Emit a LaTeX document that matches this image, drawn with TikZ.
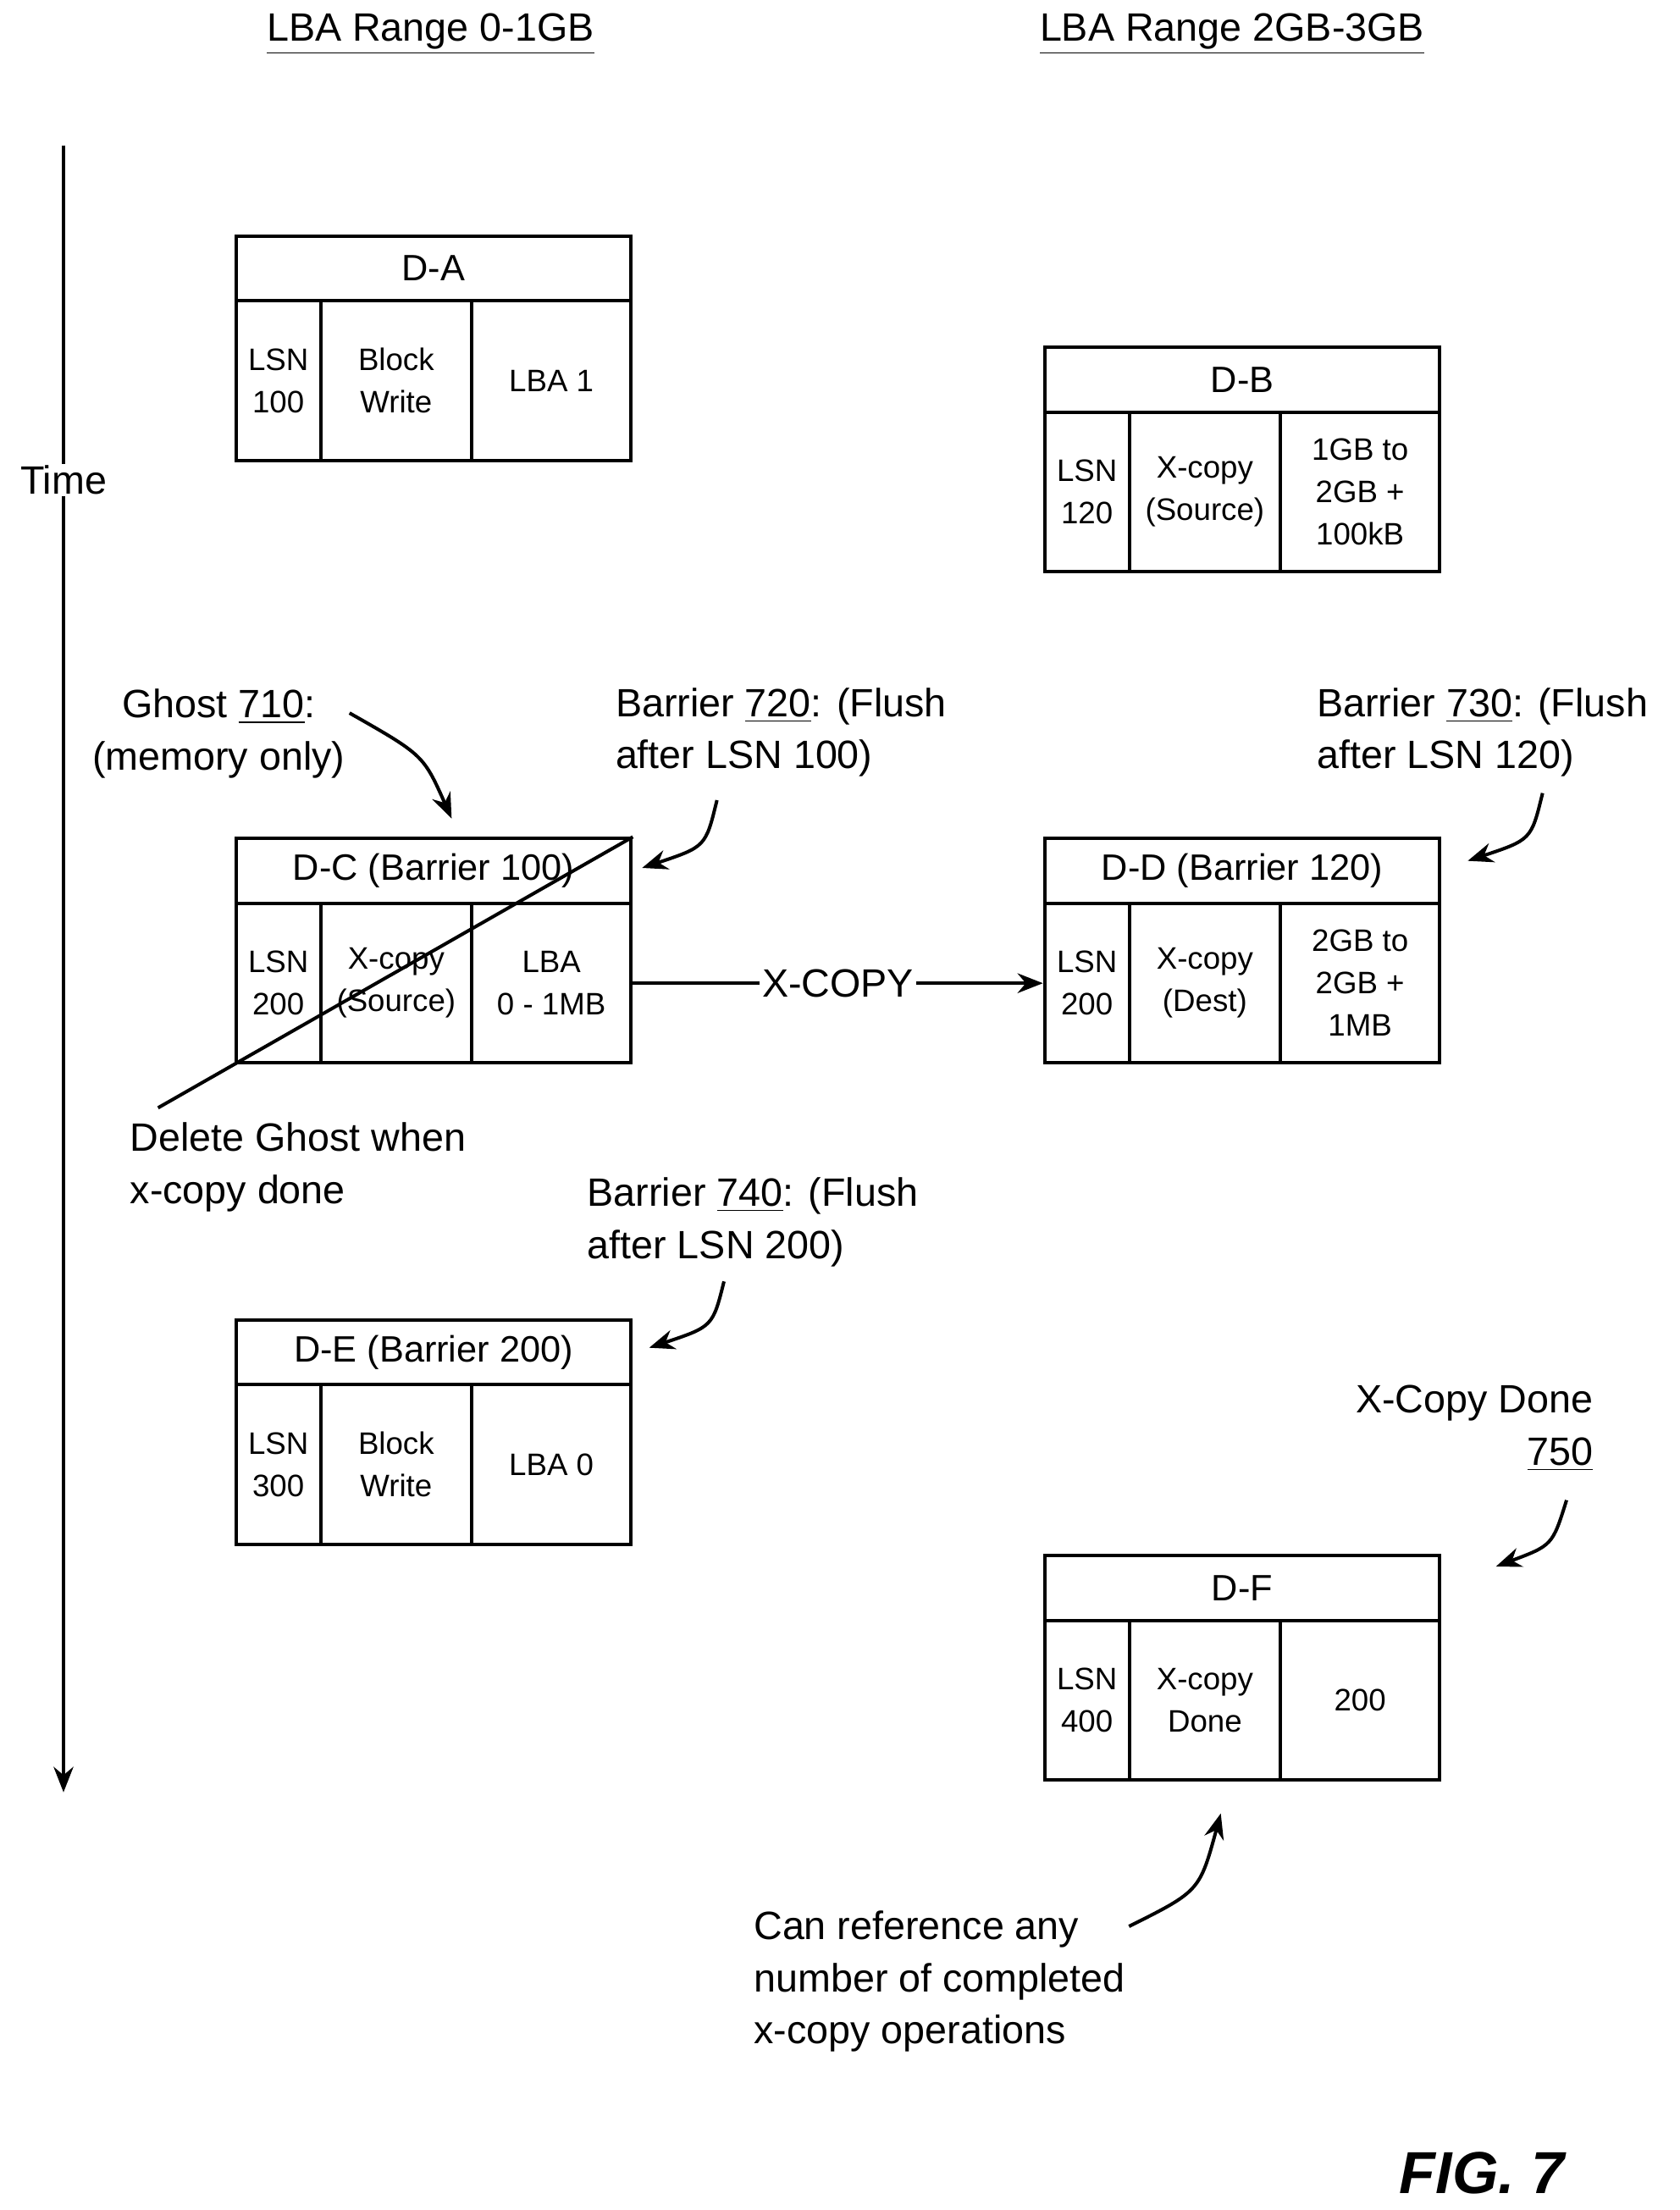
\documentclass[tikz,border=0pt]{standalone}
\usepackage{fontspec}
\setmainfont{Liberation Sans}
\usetikzlibrary{arrows.meta}
\begin{document}
\begin{tikzpicture}[x=0.5pt,y=-0.5pt,line width=1.2pt,
 cell/.style={draw,anchor=north west,inner sep=0pt,align=center,font=\fontsize{11}{15}\selectfont,minimum height=56.5pt},
 hdr/.style={draw,anchor=north west,inner sep=0pt,minimum width=140pt,minimum height=23pt,font=\fontsize{13}{15}\selectfont},
 lbl/.style={font=\fontsize{14}{18.5}\selectfont,inner sep=0pt},
 arr/.style={-{Stealth[length=9pt,width=7pt]},line width=1.2pt}]
\useasboundingbox (0,0) rectangle (1190,1566);
\newcommand\entry[7]{%
 \node[hdr] (#1h) at (#2,#3) {#4};
 \node[cell,minimum width=30pt] (#1a) at (#2,#3+46) {#5};
 \node[cell,minimum width=53.5pt] (#1b) at (#2+60,#3+46) {#6};
 \node[cell,minimum width=56.5pt] (#1c) at (#2+167,#3+46) {#7};}
\node[lbl] (h1) at (305,24) {\underline{LBA Range 0-1GB}};
\node[lbl] (h2) at (873,24) {\underline{LBA Range 2GB-3GB}};
\node[lbl] (time) at (45,340) {Time};
\coordinate (t0) at (45,103); \coordinate (t1) at (45,1270);
\draw (t0) -- (time.north);
\draw[arr] (time.south) -- (t1);
\entry{A}{166}{166}{D-A}{LSN\\100}{Block\\Write}{LBA 1}
\entry{B}{739}{245}{D-B}{LSN\\120}{X-copy\\(Source)}{1GB to\\2GB +\\100kB}
\entry{C}{166}{593}{D-C (Barrier 100)}{LSN\\200}{X-copy\\(Source)}{LBA\\0 - 1MB}
\entry{D}{739}{593}{D-D (Barrier 120)}{LSN\\200}{X-copy\\(Dest)}{2GB to\\2GB +\\1MB}
\entry{E}{166}{934}{D-E (Barrier 200)}{LSN\\300}{Block\\Write}{LBA 0}
\entry{F}{739}{1101}{D-F}{LSN\\400}{X-copy\\Done}{200}
\coordinate (g1) at (112,785);
\draw (Ch.north east) -- (g1);
\draw[arr] (Cc.east) -- node[lbl,fill=white,inner sep=1pt] {X-COPY} (Da.west);
\node[lbl,align=center] (ghost) at (155,520) {Ghost \underline{710}:\\(memory only)};
\node[lbl,align=left,anchor=west] (b720) at (435,519) {Barrier \underline{720}: (Flush\\after LSN 100)};
\node[lbl,align=left,anchor=west] (b730) at (932,519) {Barrier \underline{730}: (Flush\\after LSN 120)};
\node[lbl,align=left,anchor=west] (del) at (91,827) {Delete Ghost when\\x-copy done};
\node[lbl,align=left,anchor=west] (b740) at (415,866) {Barrier \underline{740}: (Flush\\after LSN 200)};
\node[lbl,align=right,anchor=east] (xd) at (1130,1012) {X-Copy Done\\\underline{750}};
\node[lbl,align=left,anchor=west] (can) at (533,1404) {Can reference any\\number of completed\\x-copy operations};
\node[font=\fontsize{21}{25}\selectfont\bfseries\itshape] (fig) at (1050,1540) {FIG. 7};
\coordinate (a1) at (320,580); \coordinate (a2) at (455,615); \coordinate (a3) at (1040,610);
\coordinate (a4) at (460,955); \coordinate (a5) at (1060,1110); \coordinate (a6) at (865,1285);
\draw[arr] (ghost.north east)++(2,18) .. controls (300,535) .. (a1);
\draw[arr] (508,567) .. controls (500,600) .. (a2);
\draw[arr] (1093,562) .. controls (1085,595) .. (a3);
\draw[arr] (513,908) .. controls (505,940) .. (a4);
\draw[arr] (1110,1063) .. controls (1100,1095) .. (a5);
\draw[arr] (800,1365) .. controls (850,1340) .. (a6);
\end{tikzpicture}
\end{document}
